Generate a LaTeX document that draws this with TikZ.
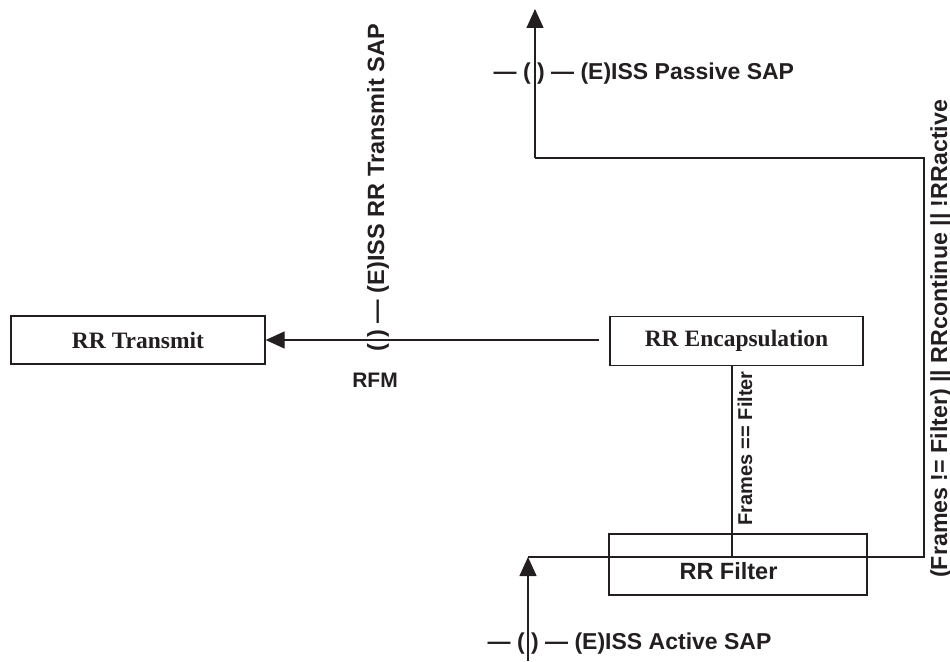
\documentclass[tikz,border=0pt]{standalone}
\usepackage{fontspec}
\setmainfont{Liberation Sans}
\newfontfamily\timesfont{Liberation Serif}
\usetikzlibrary{arrows.meta}
\definecolor{ink}{HTML}{231F20}
\tikzset{
  box/.style={draw=ink, line width=1.3pt, rectangle, inner sep=0pt},
  serifbox/.style={box, font=\timesfont\bfseries\fontsize{23.5}{26}\selectfont, text=ink},
  conn/.style={draw=ink, line width=1.3pt},
  arr/.style={conn, -{Triangle[length=19pt,width=17pt]}},
  lab/.style={font=\bfseries\fontsize{23}{25}\selectfont, text=ink, inner sep=0pt},
  vlab/.style={lab, rotate=90, anchor=base west},
}
\begin{document}
\begin{tikzpicture}[x=1pt,y=1pt]
\useasboundingbox (0,0) rectangle (950,-661);
% boxes
\node[serifbox, minimum width=254pt, minimum height=48pt] (tx) at (138,-340) {RR Transmit};
\node[serifbox, minimum width=253pt, minimum height=49pt] (enc) at (736.5,-341) {RR Encapsulation};
\node[box, minimum width=258pt, minimum height=61pt,
      label={[lab, font=\bfseries\fontsize{23.5}{26}\selectfont, xshift=-9.5pt, yshift=-7pt]center:RR Filter}] (filt) at (738,-564.5) {};
% path coordinates
\coordinate (abot) at (528,-661);
\coordinate (atip) at (528,-557);
\coordinate (j) at (732,-557);
\coordinate (rc) at (924,-557);
\coordinate (tc) at (924,-158);
\coordinate (lc) at (535,-158);
\coordinate (ptip) at (535,-9);
% connectors
\draw[arr] ([xshift=-10pt]enc.west |- tx.east) -- (tx.east);
\draw[conn] (enc.south -| j) -- (j);
\draw[arr] (abot) -- (atip);
\draw[conn] (atip) -- (rc) -- (tc) -- (lc);
\draw[arr] (lc) -- (ptip);
% labels
\node[lab, anchor=base west] (pas) at (493.5,-79) {— ( ) — (E)ISS Passive SAP};
\node[lab, anchor=base west] (act) at (487.5,-649) {— ( ) — (E)ISS Active SAP};
\node[lab, font=\bfseries\fontsize{21}{23}\selectfont, anchor=base] (rfm) at (375,-387) {RFM};
\node[vlab, font=\bfseries\fontsize{23.5}{25}\selectfont] (rrt) at (384,-352) {( ) — (E)ISS RR Transmit SAP};
\node[vlab, font=\bfseries\fontsize{20}{22}\selectfont] (feq) at (752,-526) {Frames == Filter};
\node[vlab, font=\bfseries\fontsize{23.2}{25}\selectfont] (fne) at (947,-578) {(Frames != Filter) || RRcontinue || !RRactive};
\end{tikzpicture}
\end{document}
